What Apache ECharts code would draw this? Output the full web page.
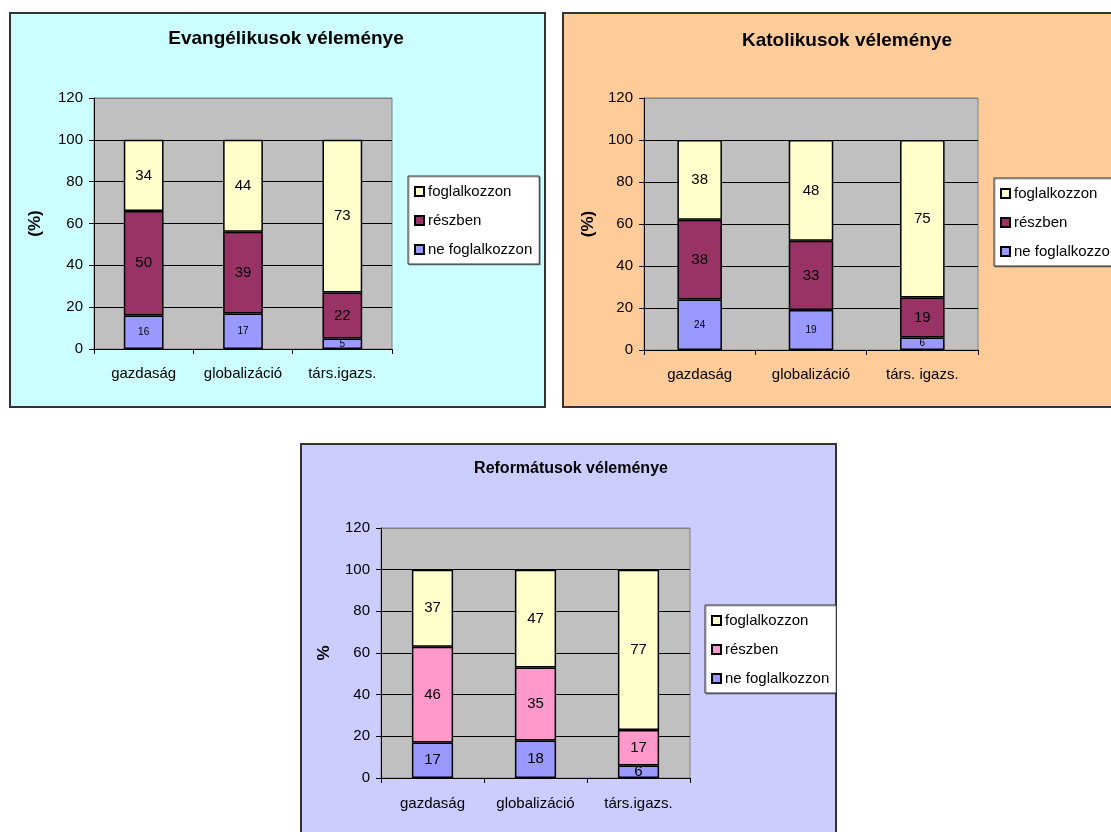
<!DOCTYPE html>
<html>
<head>
<meta charset="utf-8">
<script src="https://cdn.jsdelivr.net/npm/echarts@6/dist/echarts.min.js"></script>
<style>
  html, body { margin: 0; padding: 0; width: 1111px; height: 832px; overflow: hidden; background: #fff; }
  .panel { position: absolute; box-shadow: inset 0 0 0 2px #333; }
</style>
</head>
<body>
<div id="ev" class="panel" style="left:9px;top:12px;width:537px;height:396px;background:#CCFFFF"></div>
<div id="kat" class="panel" style="left:562px;top:12px;width:560px;height:396px;background:#FFCC99"></div>
<div id="ref" class="panel" style="left:300px;top:443px;width:537px;height:400px;background:#CCCCFF"></div>
<script>
// categories
const evCategories = ["gazdaság", "globalizáció", "társ.igazs."]
const katCategories = ["gazdaság", "globalizáció", "társ. igazs."]
const refCategories = ["gazdaság", "globalizáció", "társ.igazs."]

// Evangélikusok
const evNe = [16, 17, 5]
const evReszben = [50, 39, 22]
const evFogl = [34, 44, 73]

// Katolikusok
const katNe = [24, 19, 6]
const katReszben = [38, 33, 19]
const katFogl = [38, 48, 75]

// Reformátusok
const refNe = [17, 18, 6]
const refReszben = [46, 35, 17]
const refFogl = [37, 47, 77]

const FONT = "Liberation Sans, Arial, sans-serif"

const makeOption = cfg => {
  const barSeries = (name, data, color, fontSize) => ({
    name: name,
    type: "bar",
    stack: "total",
    barWidth: "40%",
    data: data,
    itemStyle: { color: color, borderColor: "#000", borderWidth: 1.5 },
    label: {
      show: true,
      position: "inside",
      color: "#000",
      fontFamily: FONT,
      fontSize: fontSize,
      textBorderWidth: 0,
    },
  })

  return {
    animation: false,
    title: {
      text: cfg.title,
      left: cfg.titleX,
      top: cfg.titleY,
      textAlign: "center",
      textVerticalAlign: "middle",
      textStyle: { fontFamily: FONT, fontSize: cfg.titleSize, fontWeight: "bold", color: "#000" },
    },
    legend: {
      orient: "vertical",
      left: cfg.legend[0],
      top: cfg.legend[1],
      data: ["foglalkozzon", "részben", "ne foglalkozzon"],
      icon: "rect",
      itemWidth: 9,
      itemHeight: 9,
      itemGap: 14,
      padding: [8, 7, 7, 6],
      backgroundColor: "#fff",
      borderColor: "#333",
      borderWidth: 1,
      shadowColor: "rgba(0,0,0,0.35)",
      shadowOffsetX: 1,
      shadowOffsetY: 1,
      textStyle: { fontFamily: FONT, fontSize: 15, color: "#000", padding: [0, 0, 0, -1] },
    },
    grid: {
      left: cfg.grid[0],
      top: cfg.grid[1],
      width: cfg.grid[2],
      height: cfg.grid[3],
      show: true,
      backgroundColor: "#C0C0C0",
      borderColor: "#808080",
      borderWidth: 1,
    },
    xAxis: {
      type: "category",
      data: cfg.categories,
      axisLine: { lineStyle: { color: "#000", width: 1 } },
      axisTick: { show: true, length: 5, lineStyle: { color: "#000" } },
      axisLabel: { interval: 0, fontFamily: FONT, fontSize: 15, color: "#000", margin: cfg.catMargin },
    },
    yAxis: {
      type: "value",
      min: 0,
      max: 120,
      interval: 20,
      name: cfg.yName,
      nameLocation: "middle",
      nameGap: cfg.nameGap,
      nameTextStyle: { fontFamily: FONT, fontSize: 17, fontWeight: "bold", color: "#000" },
      axisLine: { show: true, lineStyle: { color: "#000", width: 1 } },
      axisTick: { show: true, length: 5, lineStyle: { color: "#000" } },
      axisLabel: { fontFamily: FONT, fontSize: 15, color: "#000", margin: 11 },
      splitLine: {
        show: true,
        lineStyle: { color: ["#000", "#000", "#000", "#000", "#000", "#000", "#808080"], width: 1 },
      },
    },
    series: [
      barSeries("ne foglalkozzon", cfg.ne, "#9999FF", cfg.neSize),
      barSeries("részben", cfg.reszben, cfg.reszbenColor, 15),
      barSeries("foglalkozzon", cfg.fogl, "#FFFFCC", 15),
    ],
  }
}

echarts.init(document.getElementById("ev")).setOption(makeOption({
  title: "Evangélikusok véleménye",
  titleX: 272, titleY: 22, titleSize: 19,
  legend: [399, 164],
  grid: [85, 86, 298, 251],
  categories: evCategories,
  catMargin: 17,
  yName: "(%)", nameGap: 50,
  ne: evNe, reszben: evReszben, fogl: evFogl,
  reszbenColor: "#993366", neSize: 10,
}))

echarts.init(document.getElementById("kat")).setOption(makeOption({
  title: "Katolikusok véleménye",
  titleX: 280, titleY: 24, titleSize: 19,
  legend: [432, 166],
  grid: [82, 86, 334, 252],
  categories: katCategories,
  catMargin: 17,
  yName: "(%)", nameGap: 46,
  ne: katNe, reszben: katReszben, fogl: katFogl,
  reszbenColor: "#993366", neSize: 10,
}))

echarts.init(document.getElementById("ref")).setOption(makeOption({
  title: "Reformátusok véleménye",
  titleX: 266, titleY: 21, titleSize: 16,
  legend: [405, 162],
  grid: [81, 85, 309, 250],
  categories: refCategories,
  catMargin: 18,
  yName: "%", nameGap: 48,
  ne: refNe, reszben: refReszben, fogl: refFogl,
  reszbenColor: "#FF99CC", neSize: 15,
}))
</script>
</body>
</html>
